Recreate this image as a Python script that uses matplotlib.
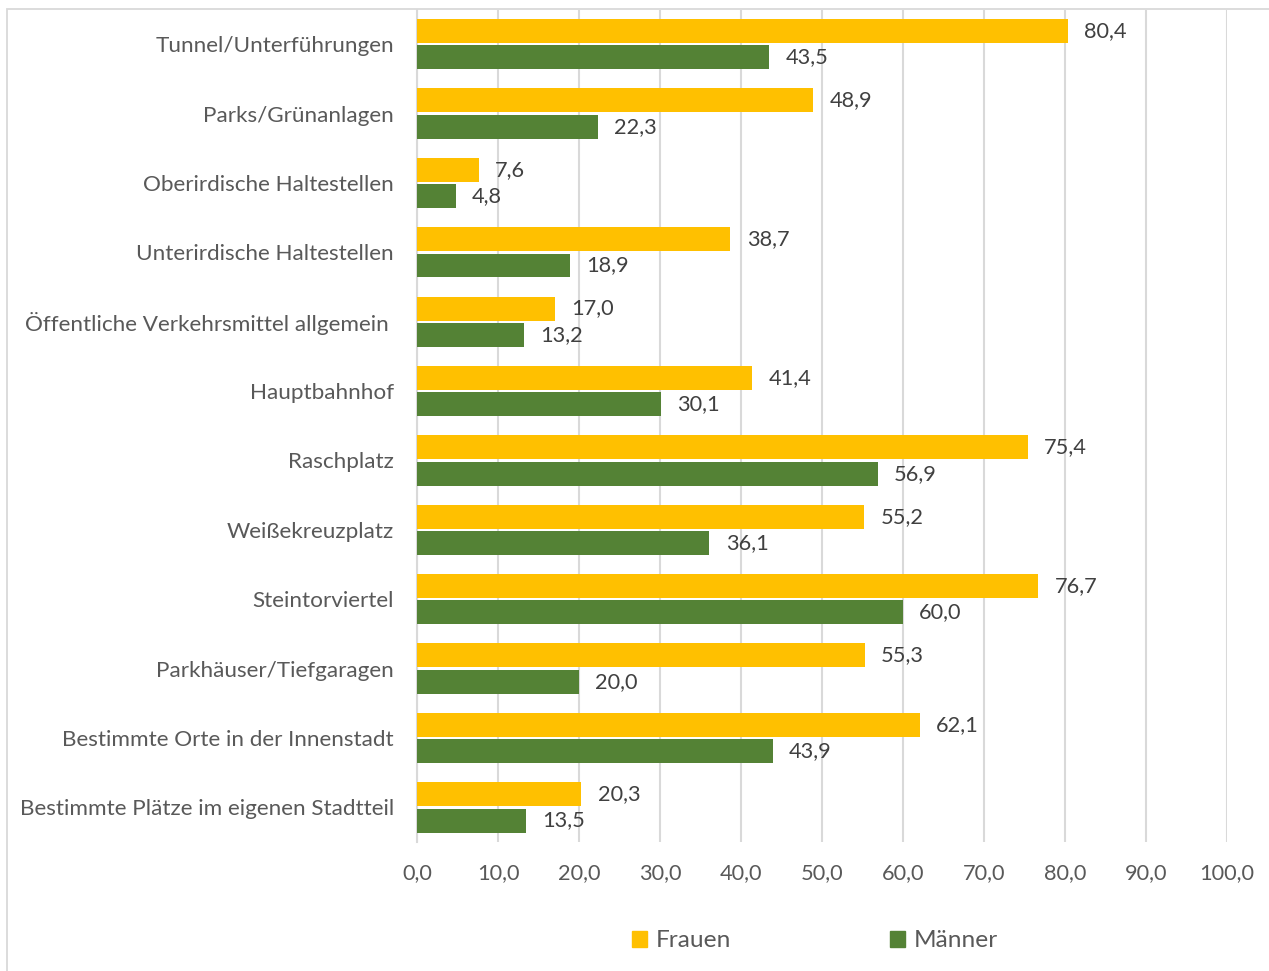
import numpy as np
import matplotlib
matplotlib.use("Agg")
import matplotlib.pyplot as plt
from matplotlib.patches import Rectangle, Patch

plt.rcParams['font.family'] = ['Lato', 'DejaVu Sans']

# data (top to bottom as shown)
categories = ["Tunnel/Unterführungen", "Parks/Grünanlagen", "Oberirdische Haltestellen",
              "Unterirdische Haltestellen", "Öffentliche Verkehrsmittel allgemein ",
              "Hauptbahnhof", "Raschplatz", "Weißekreuzplatz", "Steintorviertel",
              "Parkhäuser/Tiefgaragen", "Bestimmte Orte in der Innenstadt",
              "Bestimmte Plätze im eigenen Stadtteil"]
frauen = [80.4, 48.9, 7.6, 38.7, 17.0, 41.4, 75.4, 55.2, 76.7, 55.3, 62.1, 20.3]
maenner = [43.5, 22.3, 4.8, 18.9, 13.2, 30.1, 56.9, 36.1, 60.0, 20.0, 43.9, 13.5]
xticks = [0, 10, 20, 30, 40, 50, 60, 70, 80, 90, 100]

col_f = "#FFC000"
col_m = "#548235"
txt = "#595959"
grid = "#d9d9d9"

fig = plt.figure(figsize=(12.69, 9.71), dpi=100)
ax = fig.add_axes([0.3286, 0.1328, 0.6383, 0.8574])

# outer chart border
fig.patches.append(Rectangle((7 / 1269, -0.01), 1.1, 1 - 9 / 971 + 0.01, transform=fig.transFigure,
                             fill=False, edgecolor=grid, linewidth=1.3))

y = np.arange(len(categories))
h = 0.345
off = 0.19
ax.barh(y - off, frauen, height=h, color=col_f, zorder=3)
ax.barh(y + off, maenner, height=h, color=col_m, zorder=3)

def fmt(v):
    return ("%.1f" % v).replace(".", ",")

for yi, f, m in zip(y, frauen, maenner):
    ax.text(f + 2.0, yi - off, fmt(f), va="center", ha="left", fontsize=15.7, color="#404040")
    ax.text(m + 2.0, yi + off, fmt(m), va="center", ha="left", fontsize=15.7, color="#404040")

ax.set_ylim(len(categories) - 0.5, -0.5)
ax.set_xlim(0, 100)
ax.set_yticks(y)
ax.set_yticklabels(categories, fontsize=16.2, color=txt)
ax.set_xticks(xticks)
ax.set_xticklabels([fmt(v) for v in xticks], fontsize=15.7, color=txt)
ax.tick_params(axis="y", length=0, pad=16.5)
ax.tick_params(axis="x", length=0, pad=15)
ax.grid(axis="x", color=grid, linewidth=1.5, zorder=0)
for s in ["top", "right", "bottom"]:
    ax.spines[s].set_visible(False)
ax.spines["left"].set_color(grid)
ax.spines["left"].set_linewidth(1.5)

handles = [Patch(color=col_f, label="Frauen"), Patch(color=col_m, label="Männer")]
leg = fig.legend(handles=handles, loc="center", bbox_to_anchor=(0.642, 0.031), ncol=2,
                 frameon=False, fontsize=17.6, handlelength=0.62, handleheight=0.62,
                 handletextpad=0.35, columnspacing=6.5)
for t in leg.get_texts():
    t.set_color(txt)

fig.savefig("out.png", dpi=100)
